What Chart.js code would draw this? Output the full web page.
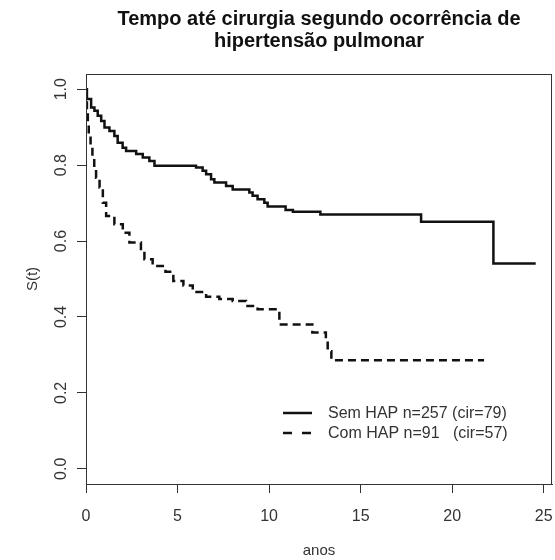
<!DOCTYPE html>
<html>
<head>
<meta charset="utf-8">
<script src="https://cdn.jsdelivr.net/npm/chart.js@4/dist/chart.umd.min.js"></script>
<style>
  html, body { margin: 0; padding: 0; background: #fff; }
</style>
</head>
<body>
<canvas id="km" width="555" height="560"></canvas>
<script>
// Kaplan-Meier: tempo até cirurgia (anos) x S(t)
const semTempo = [0, 0.05, 0.28, 0.46, 0.64, 0.83, 1.01, 1.28, 1.55, 1.73, 2.0, 2.19, 2.74, 3.1, 3.46, 3.74,
  6.01, 6.37, 6.56, 6.83, 7.01, 7.65, 8.01, 8.92, 9.1, 9.37, 9.74, 9.92, 10.9, 11.3, 12.8, 18.3, 22.25, 24.56];
const semSobrev = [1.0, 0.974, 0.952, 0.943, 0.930, 0.916, 0.899, 0.890, 0.877, 0.859, 0.846, 0.837, 0.829, 0.820, 0.811, 0.798,
  0.794, 0.785, 0.776, 0.763, 0.754, 0.745, 0.736, 0.728, 0.719, 0.710, 0.701, 0.691, 0.682, 0.677, 0.670, 0.651, 0.541, 0.541];

const comTempo = [0, 0.02, 0.05, 0.1, 0.15, 0.25, 0.35, 0.45, 0.55, 0.74, 0.92, 1.10, 1.55, 2.01, 2.37,
  3.0, 3.19, 3.64, 4.34, 4.77, 5.32, 5.83, 6.56, 7.28, 8.01, 8.74, 9.37, 10.56, 12.36, 13.1, 13.2, 13.4, 21.74];
const comSobrev = [1.0, 0.97, 0.94, 0.91, 0.88, 0.85, 0.82, 0.79, 0.767, 0.741, 0.701, 0.666, 0.644, 0.622, 0.596,
  0.574, 0.552, 0.534, 0.519, 0.495, 0.483, 0.466, 0.453, 0.447, 0.442, 0.429, 0.420, 0.380, 0.359, 0.341, 0.31, 0.286, 0.286];

const xTicks = [0, 5, 10, 15, 20, 25];
const yTicks = [0, 0.2, 0.4, 0.6, 0.8, 1.0];
const legendLabels = ['Sem HAP n=257 (cir=79)', 'Com HAP n=91   (cir=57)'];
const titulo = ['Tempo até cirurgia segundo ocorrência de', 'hipertensão pulmonar'];

const toPoints = (t, s) => t.map((v, i) => ({ x: v, y: s[i] }));

const FONT = '"Liberation Sans", Arial, sans-serif';
const INK = '#333';

// caixa, rótulos dos eixos, título e legenda no estilo do R
const decor = {
  id: 'decor',
  afterDraw(chart) {
    const { ctx, chartArea: a, scales: { x, y } } = chart;
    ctx.save();
    ctx.strokeStyle = INK;
    ctx.lineWidth = 1;
    ctx.strokeRect(Math.round(a.left) + 0.5, Math.round(a.top) + 0.5,
      Math.round(a.right - a.left) - 1, Math.round(a.bottom - a.top));

    ctx.fillStyle = INK;
    ctx.font = '16px ' + FONT;
    ctx.textAlign = 'center';
    ctx.textBaseline = 'middle';
    xTicks.forEach(v => ctx.fillText(String(v), x.getPixelForValue(v), 517));
    yTicks.forEach(v => {
      ctx.save();
      ctx.translate(62, y.getPixelForValue(v));
      ctx.rotate(-Math.PI / 2);
      ctx.fillText(v.toFixed(1), 0, 0);
      ctx.restore();
    });

    // títulos dos eixos
    const cx = (a.left + a.right) / 2;
    ctx.font = '15px ' + FONT;
    ctx.fillText('anos', cx, 551);
    ctx.save();
    ctx.translate(33, (a.top + a.bottom) / 2);
    ctx.rotate(-Math.PI / 2);
    ctx.fillText('S(t)', 0, 0);
    ctx.restore();

    // título principal
    ctx.fillStyle = '#111';
    ctx.font = 'bold 20px ' + FONT;
    ctx.fillText(titulo[0], cx, 19);
    ctx.fillText(titulo[1], cx, 41);

    // legenda
    const lx = 283, ly = [413, 433];
    const traco = [[], [9, 10]];
    ctx.strokeStyle = '#111';
    ctx.lineWidth = 2.5;
    ly.forEach((yy, i) => {
      ctx.setLineDash(traco[i]);
      ctx.beginPath();
      ctx.moveTo(lx, yy);
      ctx.lineTo(lx + 29, yy);
      ctx.stroke();
    });
    ctx.setLineDash([]);
    ctx.fillStyle = INK;
    ctx.font = '16px ' + FONT;
    ctx.textAlign = 'left';
    legendLabels.forEach((t, i) => ctx.fillText(t, 328, ly[i] + 1));
    ctx.restore();
  }
};

new Chart(document.getElementById('km'), {
  type: 'line',
  data: {
    datasets: [
      {
        label: legendLabels[0],
        data: toPoints(semTempo, semSobrev),
        borderColor: '#111',
        borderWidth: 2.5,
        stepped: true,
        pointRadius: 0,
        fill: false
      },
      {
        label: legendLabels[1],
        data: toPoints(comTempo, comSobrev),
        borderColor: '#111',
        borderWidth: 2.5,
        borderDash: [8, 5],
        stepped: true,
        pointRadius: 0,
        fill: false
      }
    ]
  },
  options: {
    responsive: false,
    animation: false,
    layout: { padding: { left: 77, top: 74, right: 3, bottom: 67 } },
    plugins: { legend: { display: false }, title: { display: false }, tooltip: { enabled: false } },
    scales: {
      x: {
        type: 'linear',
        min: 0,
        max: 25.45,
        afterBuildTicks: s => { s.ticks = xTicks.map(v => ({ value: v })); },
        ticks: { display: false },
        grid: { drawOnChartArea: false, drawTicks: true, tickLength: 9, color: INK },
        border: { display: true, color: INK }
      },
      y: {
        type: 'linear',
        min: -0.04,
        max: 1.04,
        afterBuildTicks: s => { s.ticks = yTicks.map(v => ({ value: v })); },
        ticks: { display: false },
        grid: { drawOnChartArea: false, drawTicks: true, tickLength: 9, color: INK },
        border: { display: true, color: INK }
      }
    }
  },
  plugins: [decor]
});
</script>
</body>
</html>
